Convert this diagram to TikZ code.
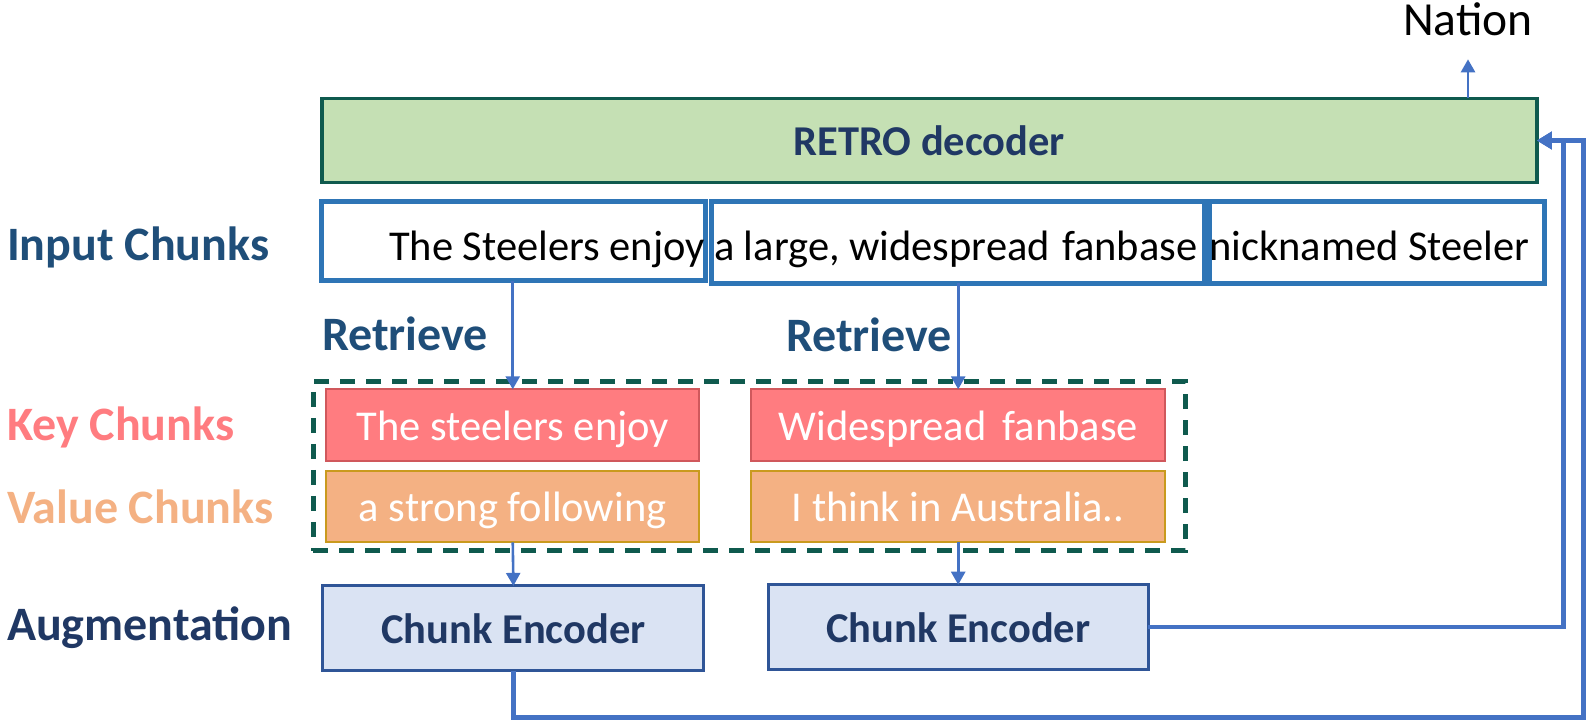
\documentclass[tikz,border=0pt]{standalone}
\usepackage{fontspec}
\setmainfont{Carlito}
\usetikzlibrary{arrows.meta}
\definecolor{decfill}{HTML}{C5E0B4}
\definecolor{decline}{HTML}{0F5A4E}
\definecolor{inline}{HTML}{2E75B6}
\definecolor{keyfill}{HTML}{FF7C80}
\definecolor{keyline}{HTML}{D0585C}
\definecolor{valfill}{HTML}{F4B183}
\definecolor{valline}{HTML}{C99A1E}
\definecolor{encfill}{HTML}{DAE3F3}
\definecolor{encline}{HTML}{2F5597}
\definecolor{arrowblue}{HTML}{4472C4}
\definecolor{labelblue}{HTML}{1F4E79}
\definecolor{navy}{HTML}{203864}
\begin{document}
\begin{tikzpicture}[x=1pt,y=-1pt,
  every node/.style={inner sep=0pt, outer sep=0pt},
  reg/.style={font=\fontsize{42.5pt}{50pt}\selectfont},
  bld/.style={font=\fontsize{42.5pt}{50pt}\selectfont\bfseries},
  sidelabel/.style={font=\fontsize{48pt}{56pt}\selectfont\bfseries, anchor=base west},
  boxtext/.style={text height=40pt, text depth=10pt, align=center},
  decoder/.style={bld, boxtext, draw=decline, fill=decfill, line width=3.5pt, text=navy},
  inbox/.style={draw=inline, line width=5pt, fill=white},
  keybox/.style={reg, boxtext, draw=keyline, fill=keyfill, line width=2pt, text=white,
    minimum width=373pt, minimum height=71.4pt},
  valbox/.style={reg, boxtext, draw=valline, fill=valfill, line width=2pt, text=white,
    minimum width=373pt, minimum height=71.4pt},
  encbox/.style={bld, boxtext, draw=encline, fill=encfill, line width=3pt, text=navy,
    minimum width=381pt, minimum height=85pt},
  groupbox/.style={draw=decline, line width=5pt, dash pattern=on 15pt off 11pt},
  arr/.style={draw=arrowblue, line width=2.6pt, -{Triangle[width=14pt,length=13pt]}},
  fb/.style={draw=arrowblue, line width=4.5pt, -{Triangle[width=17pt,length=15pt]}}
]
\useasboundingbox (0,0) rectangle (1589,721);

% decoder and its output
\node[decoder, minimum width=1215pt, minimum height=84.4pt] (dec) at (929.3,140.5) {RETRO decoder};
\node[reg, font=\fontsize{47.5pt}{56pt}\selectfont, anchor=base] (nation) at (1468,35) {Nation};
\draw[arr] (nation |- dec.north) -- ++(0,-39);

% input chunks
\node[inbox, minimum width=384.7pt, minimum height=79pt] (in1) at (513.35,241.2) {};
\node[inbox, minimum width=492.6pt, minimum height=82pt] (in2) at (957.7,242) {};
\node[inbox, minimum width=335.3pt, minimum height=82pt] (in3) at (1376.65,242) {};
\node[reg, anchor=base west] (t1) at (389,260) {The Steelers enjoy};
\node[reg, anchor=base west] (t2) at (714,260) {a large, widespread\hspace{0.06em} fanbase};
\node[reg, anchor=base west] (t3) at (1209,260) {nicknamed Steeler};

% retrieved neighbours
\node[groupbox, minimum width=872.4pt, minimum height=169pt] (grp) at (749.5,466.2) {};
\node[keybox] (key1) at (512.75,425) {The steelers enjoy};
\node[valbox] (val1) at (512.75,506.7) {a strong following};
\node[keybox, minimum width=414.4pt] (key2) at (958.2,425) {Widespread\hspace{0.15em} fanbase};
\node[valbox, minimum width=414.4pt] (val2) at (958.2,506.7) {I think in Australia..};

% chunk encoders
\node[encbox] (enc1) at (513.4,628.4) {Chunk Encoder};
\node[encbox, minimum width=380pt] (enc2) at (958.2,627.2) {Chunk Encoder};

% row labels
\node[sidelabel, text=labelblue] (lin) at (7,260) {Input Chunks};
\node[sidelabel, text=keyfill] (lkey) at (7,440) {Key Chunks};
\node[sidelabel, text=valfill] (lval) at (7,523) {Value Chunks};
\node[sidelabel, text=navy] (laug) at (7,640) {Augmentation};
\node[sidelabel, text=labelblue] (ret1) at (322,350) {Retrieve};
\node[sidelabel, text=labelblue] (ret2) at (786,351.5) {Retrieve};

% retrieval and encoding arrows
\draw[arr] (key1.north |- in1.south) -- (key1.north);
\draw[arr] (key2.north |- in2.south) -- (key2.north);
\draw[arr] (val1.south) -- (enc1.north);
\draw[arr] (val2.south) -- (enc2.north);

% encoded chunks fed back into the decoder
\coordinate (r1) at (1563.3,140.5);
\coordinate (r2) at (1583.3,140.5);
\draw[fb] (enc2.east) -| (r1) -- (dec.east);
\draw[fb] (enc1.south) -- ++(0,46.5) -| (r2) -- (dec.east);
\end{tikzpicture}
\end{document}
